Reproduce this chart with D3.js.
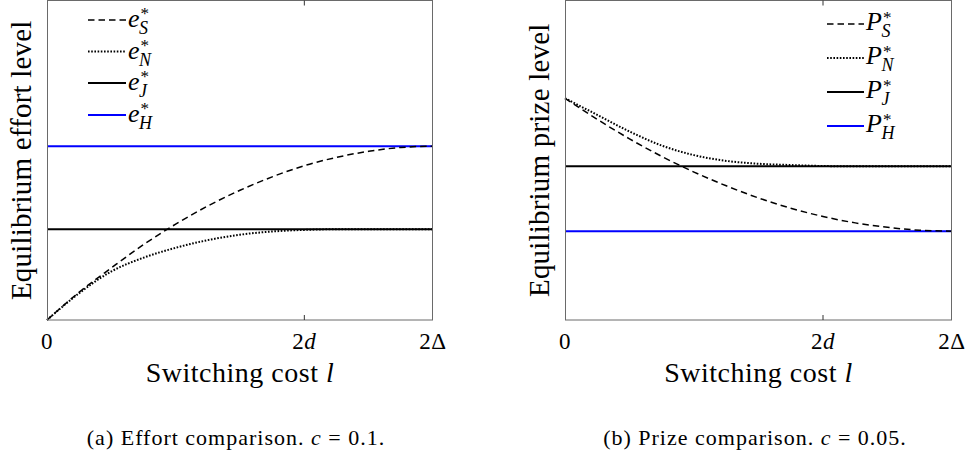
<!DOCTYPE html>
<html>
<head>
<meta charset="utf-8">
<script src="https://cdn.jsdelivr.net/npm/d3@7"></script>
<style>
  body { margin: 0; background: #fff; }
  svg { display: block; }
</style>
</head>
<body>
<div class="chart"></div>
<script>
// switching cost grid (2d = 2, 2Δ = 3) (fraction of axis height)
const switchCost = [0, 0.25, 0.5, 0.75, 1, 1.25, 1.5, 1.75, 2, 2.25, 2.5, 2.75, 3];

const effortS = [0, 0.087, 0.163, 0.236, 0.300, 0.357, 0.406, 0.448, 0.483, 0.509, 0.528, 0.540, 0.544];
const effortN = [0, 0.084, 0.152, 0.195, 0.226, 0.250, 0.267, 0.277, 0.282, 0.284, 0.284, 0.284, 0.284];
const effortJ = 0.284;
const effortH = 0.544;

const prizeS = [0.694, 0.628, 0.567, 0.512, 0.463, 0.420, 0.382, 0.350, 0.324, 0.304, 0.290, 0.281, 0.278];
const prizeN = [0.694, 0.642, 0.590, 0.546, 0.516, 0.498, 0.489, 0.485, 0.482, 0.481, 0.481, 0.481, 0.481];
const prizeJ = 0.481;
const prizeH = 0.278;

const tickValues = [0, 2, 3];
const tickLabels = [['0', ''], ['2', 'd'], ['2\u0394', '']];
const seriesKeys = ['S', 'N', 'J', 'H'];

const width = 969, height = 457;
const serif = '"Liberation Serif", "DejaVu Serif", serif';

const svg = d3.select('.chart')
  .append('svg')
  .attr('width', width)
  .attr('height', height)
  .style('font-family', serif);

const styles = {
  S: { color: '#000', dash: '6.5,4', w: 1.5 },
  N: { color: '#000', dash: '1.6,1.6', w: 2 },
  J: { color: '#000', dash: null, w: 2 },
  H: { color: '#0000ff', dash: null, w: 2 }
};

const panels = [
  {
    left: 47, right: 433, symbol: 'e', ylabel: 'Equilibrium effort level', ylabelX: 31,
    caption: ['(a) Effort comparison. ', 'c', ' = 0.1.'], captionX: 236,
    S: effortS, N: effortN, J: effortJ, H: effortH,
    legend: { x1: 88, x2: 126, tx: 128, rows: [20, 51.5, 83, 115], shift: 7 }
  },
  {
    left: 565, right: 952, symbol: 'P', ylabel: 'Equilibrium prize level', ylabelX: 549,
    caption: ['(b) Prize comparison. ', 'c', ' = 0.05.'], captionX: 755,
    S: prizeS, N: prizeN, J: prizeJ, H: prizeH,
    legend: { x1: 827, x2: 864, tx: 866, rows: [24, 58, 92, 126], shift: 6 }
  }
];

const plotTop = 0.5, plotBottom = 320;

panels.forEach(p => {
  const x = d3.scaleLinear().domain([0, 3]).range([p.left, p.right]);
  const y = d3.scaleLinear().domain([0, 1]).range([plotBottom, plotTop]);
  const g = svg.append('g');

  // curves
  const line = d3.line()
    .x(d => x(d[0]))
    .y(d => y(d[1]))
    .curve(d3.curveMonotoneX);

  const drawSeries = (key, vals) => {
    const st = styles[key];
    const pts = Array.isArray(vals)
      ? switchCost.map((l, i) => [l, vals[i]])
      : [[0, vals], [3, vals]];
    g.append('path')
      .attr('d', line(pts))
      .attr('fill', 'none')
      .attr('stroke', st.color)
      .attr('stroke-width', st.w)
      .attr('stroke-dasharray', st.dash);
  };
  drawSeries('J', p.J);
  drawSeries('H', p.H);
  drawSeries('S', p.S);
  drawSeries('N', p.N);

  // box
  g.append('rect')
    .attr('x', p.left + 0.5)
    .attr('y', plotTop)
    .attr('width', p.right - p.left - 1)
    .attr('height', plotBottom - plotTop)
    .attr('fill', 'none')
    .attr('stroke', '#6a6a6a')
    .attr('stroke-width', 1);

  // x axis ticks (inward, top and bottom) and labels
  const xAxis = d3.axisBottom(x)
    .tickValues(tickValues)
    .tickSize(0)
    .tickPadding(0)
    .tickFormat('');
  const ax = g.append('g')
    .attr('transform', `translate(0, ${plotBottom})`)
    .call(xAxis);
  ax.select('.domain').remove();
  ax.attr('font-family', null);

  tickValues.forEach((v, i) => {
    if (v > 0 && v < 3) {
      g.append('line').attr('x1', x(v)).attr('x2', x(v))
        .attr('y1', plotBottom).attr('y2', plotBottom - 5)
        .attr('stroke', '#333').attr('stroke-width', 1);
      g.append('line').attr('x1', x(v)).attr('x2', x(v))
        .attr('y1', plotTop).attr('y2', plotTop + 5)
        .attr('stroke', '#333').attr('stroke-width', 1);
    }
    const t = ax.append('text')
      .attr('x', x(v))
      .attr('y', 349 - plotBottom)
      .attr('text-anchor', 'middle')
      .attr('fill', '#000')
      .style('font-family', serif)
      .style('font-size', '23px')
      .style('letter-spacing', '0.5px');
    t.append('tspan').text(tickLabels[i][0]);
    if (tickLabels[i][1]) t.append('tspan').style('font-style', 'italic').text(tickLabels[i][1]);
  });

  // x label
  const xl = g.append('text')
    .attr('x', (p.left + p.right) / 2)
    .attr('y', 382)
    .attr('text-anchor', 'middle')
    .style('font-size', '28px')
    .style('letter-spacing', '0.5px');
  xl.append('tspan').text('Switching cost ');
  xl.append('tspan').style('font-style', 'italic').text('l');

  // y label
  g.append('text')
    .attr('transform', `translate(${p.ylabelX}, ${(plotTop + plotBottom) / 2}) rotate(-90)`)
    .attr('text-anchor', 'middle')
    .style('font-size', '29px')
    .style('letter-spacing', '0.2px')
    .text(p.ylabel);

  // caption
  const cap = g.append('text')
    .attr('x', p.captionX)
    .attr('y', 445)
    .attr('text-anchor', 'middle')
    .style('font-size', '22px')
    .style('letter-spacing', '1px');
  cap.append('tspan').text(p.caption[0]);
  cap.append('tspan').style('font-style', 'italic').text(p.caption[1]);
  cap.append('tspan').text(p.caption[2]);

  // legend: symbol with stacked superscript * and subscript
  const lg = p.legend;
  seriesKeys.forEach((k, i) => {
    const st = styles[k];
    const ly = lg.rows[i];
    g.append('line')
      .attr('x1', lg.x1).attr('x2', lg.x2)
      .attr('y1', ly).attr('y2', ly)
      .attr('stroke', st.color)
      .attr('stroke-width', st.w)
      .attr('stroke-dasharray', st.dash);
    const t = g.append('text')
      .attr('x', lg.tx).attr('y', ly + lg.shift);
    t.append('tspan')
      .style('font-size', '26px')
      .style('font-style', 'italic')
      .text(p.symbol);
    t.append('tspan')
      .attr('dx', 1)
      .attr('dy', -(lg.shift + 1))
      .style('font-size', '17px')
      .text('*');
    t.append('tspan')
      .attr('dx', -10)
      .attr('dy', lg.shift + 8)
      .style('font-size', '18px')
      .style('font-style', 'italic')
      .text(k);
  });
});
</script>
</body>
</html>
